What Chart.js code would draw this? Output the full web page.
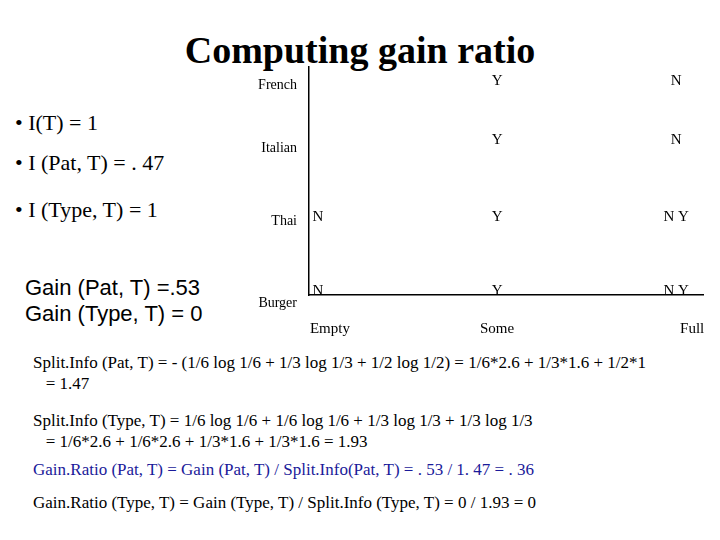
<!DOCTYPE html>
<html><head><meta charset="utf-8">
<script src="https://cdn.jsdelivr.net/npm/chart.js@4/dist/chart.umd.min.js"></script>
<style>
body{margin:0;width:720px;height:540px;background:#fff;font-family:"Liberation Serif","DejaVu Serif",serif;position:relative;overflow:hidden}
.t{position:absolute;white-space:nowrap;color:#000}
#wrap{position:absolute;left:240px;top:55px;width:470px;height:300px}
</style></head><body>
<div class="t" style="left:0;width:720px;text-align:center;top:28px;font-size:38px;font-weight:bold">Computing gain ratio</div>
<div class="t" style="left:15px;top:110px;font-size:22px">• I(T) = 1</div>
<div class="t" style="left:15px;top:150px;font-size:22px">• I (Pat, T) = . 47</div>
<div class="t" style="left:15px;top:197px;font-size:22px">• I (Type, T) = 1</div>
<div class="t" style="left:25px;top:275px;font-size:22px;font-family:'Liberation Sans',sans-serif;line-height:26px">Gain (Pat, T) =.53<br>Gain (Type, T) = 0</div>
<div class="t" style="left:33px;top:352px;font-size:17px;line-height:21px">Split.Info (Pat, T) = - (1/6 log 1/6 + 1/3 log 1/3 + 1/2 log 1/2) = 1/6*2.6 + 1/3*1.6 + 1/2*1<br>&nbsp;&nbsp;&nbsp;= 1.47</div>
<div class="t" style="left:33px;top:410px;font-size:17px;line-height:21px">Split.Info (Type, T) = 1/6 log 1/6 + 1/6 log 1/6 + 1/3 log 1/3 + 1/3 log 1/3<br>&nbsp;&nbsp;&nbsp;= 1/6*2.6 + 1/6*2.6 + 1/3*1.6 + 1/3*1.6 = 1.93</div>
<div class="t" style="left:33px;top:460px;font-size:17px;color:#1a1a9a">Gain.Ratio (Pat, T) = Gain (Pat, T) / Split.Info(Pat, T) = . 53 / 1. 47 = . 36</div>
<div class="t" style="left:33px;top:493px;font-size:17px">Gain.Ratio (Type, T) = Gain (Type, T) / Split.Info (Type, T) = 0 / 1.93 = 0</div>
<div id="wrap"><canvas id="c"></canvas></div>
<script>
const columns = ['Empty', 'Some', 'Full'];
const rows = ['French', 'Italian', 'Thai', 'Burger'];
const rowPos = [2.85, 2.05, 1, 0];
// marks: [column index, row index, text]
const marks = [
  [1, 0, 'Y'], [2, 0, 'N'],
  [1, 1, 'Y'], [2, 1, 'N'],
  [0, 2, 'N'], [1, 2, 'Y'], [2, 2, 'N Y'],
  [0, 3, 'N'], [1, 3, 'Y'], [2, 3, 'N Y'],
];

const labelsPlugin = {
  id: 'labels',
  afterDatasetsDraw(chart) {
    const { ctx, scales: { x, y }, chartArea } = chart;
    ctx.save();
    ctx.fillStyle = '#000';
    ctx.font = '15px "Liberation Serif", "DejaVu Serif", serif';
    ctx.textBaseline = 'middle';
    ctx.textAlign = 'center';
    marks.forEach(([c, r, t]) => ctx.fillText(t, x.getPixelForValue(c), y.getPixelForValue(rowPos[r]) - 4));
    columns.forEach((t, i) => ctx.fillText(t, x.getPixelForValue(i) + (i == 0 ? 12 : i == 2 ? 16 : 0), chartArea.bottom + 34));
    ctx.font = '14px "Liberation Serif", "DejaVu Serif", serif';
    ctx.textAlign = 'right';
    rows.forEach((t, i) => ctx.fillText(t, chartArea.left - 12, y.getPixelForValue(rowPos[i]) + (i == 3 ? 8 : i == 1 ? 4 : 0)));
    ctx.restore();
  }
};

new Chart(document.getElementById('c'), {
  type: 'scatter',
  data: { datasets: [{ data: marks.map(([c, r]) => ({ x: c, y: rowPos[r] })), pointRadius: 0 }] },
  options: {
    responsive: true, maintainAspectRatio: false, animation: false,
    layout: { padding: { left: 61, top: 12, right: 7, bottom: 52 } },
    plugins: { legend: { display: false }, tooltip: { enabled: false } },
    scales: {
      x: { min: -0.05, max: 2.15, ticks: { display: false }, grid: { display: false }, border: { color: '#000', width: 1.5 } },
      y: { min: 0, max: 3.1, ticks: { display: false }, grid: { display: false }, border: { color: '#000', width: 1.5 } },
    },
  },
  plugins: [labelsPlugin],
});
</script>
</body></html>
